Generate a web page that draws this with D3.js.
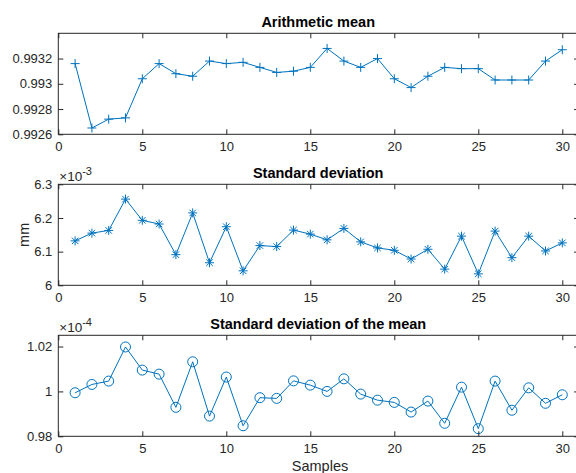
<!DOCTYPE html>
<html>
<head>
<meta charset="utf-8">
<script src="https://cdn.jsdelivr.net/npm/d3@7"></script>
<style>
  body { margin: 0; background: #fff; }
  svg { display: block; font-family: "Liberation Sans", Arial, Helvetica, sans-serif; }
</style>
</head>
<body>
<svg id="chart" width="576" height="473"></svg>
<script>
// Sample index 1..30
const samples = d3.range(1, 31);

// Arithmetic mean of each sample
const meanValues = [0.99316, 0.99265, 0.99272, 0.99273, 0.99304, 0.99316, 0.99308, 0.99306, 0.99318, 0.99316,
                    0.99317, 0.99313, 0.99309, 0.99310, 0.99313, 0.99328, 0.99318, 0.99313, 0.99320, 0.99304,
                    0.99297, 0.99306, 0.99313, 0.99312, 0.99312, 0.99303, 0.99303, 0.99303, 0.99318, 0.99327];

// Standard deviation (mm), in units of 1e-3
const stdValues = [6.132, 6.155, 6.163, 6.256, 6.193, 6.182, 6.091, 6.215, 6.067, 6.174,
                   6.043, 6.118, 6.115, 6.164, 6.152, 6.135, 6.169, 6.129, 6.111, 6.104,
                   6.078, 6.107, 6.048, 6.146, 6.034, 6.161, 6.082, 6.146, 6.102, 6.126];

// Standard deviation of the mean, in units of 1e-4
const semValues = [0.9994, 1.0031, 1.0046, 1.0198, 1.0095, 1.0077, 0.9929, 1.0132, 0.9890, 1.0064,
                   0.9847, 0.9972, 0.9969, 1.0047, 1.0028, 1.0000, 1.0056, 0.9988, 0.9961, 0.9951,
                   0.9908, 0.9957, 0.9858, 1.0019, 0.9834, 1.0046, 0.9916, 1.0016, 0.9947, 0.9985];

const xTicks = [0, 5, 10, 15, 20, 25, 30];
const meanTicks = [0.9926, 0.9928, 0.993, 0.9932];
const meanTickLabels = ["0.9926", "0.9928", "0.993", "0.9932"];
const stdTicks = [6, 6.1, 6.2, 6.3];
const stdTickLabels = ["6", "6.1", "6.2", "6.3"];
const semTicks = [0.98, 1, 1.02];
const semTickLabels = ["0.98", "1", "1.02"];

const ink = "#262626";
const lineColor = "#0072BD";
const tickFont = 13;

const svg = d3.select("#chart");

const panels = [
  { title: "Arithmetic mean", values: meanValues, yDomain: [0.9926, 0.9934], ticks: meanTicks,
    labels: meanTickLabels, top: 33.3, bottom: 134.3, marker: "plus", exponent: null, ylabel: null },
  { title: "Standard deviation", values: stdValues, yDomain: [6.0, 6.3], ticks: stdTicks,
    labels: stdTickLabels, top: 184.3, bottom: 285.3, marker: "star", exponent: "-3", ylabel: "mm" },
  { title: "Standard deviation of the mean", values: semValues, yDomain: [0.98, 1.025], ticks: semTicks,
    labels: semTickLabels, top: 335.3, bottom: 436.3, marker: "circle", exponent: "-4", ylabel: null }
];

const left = 58.3, right = 579.1;
const x = d3.scaleLinear().domain([0, 31]).range([left, right]);
const tickLen = 5;

panels.forEach(p => {
  const y = d3.scaleLinear().domain(p.yDomain).range([p.bottom, p.top]);
  const g = svg.append("g");

  // data line
  const line = d3.line().x((d, i) => x(samples[i])).y(d => y(d));
  g.append("path").datum(p.values)
    .attr("d", line).attr("fill", "none")
    .attr("stroke", lineColor).attr("stroke-width", 1);

  // markers
  const mk = g.append("g").attr("stroke", lineColor).attr("fill", "none").attr("stroke-width", 1);
  p.values.forEach((v, i) => {
    const cx = x(samples[i]), cy = y(v);
    if (p.marker === "plus") {
      const s = 4.5;
      mk.append("path").attr("d", `M${cx - s},${cy}H${cx + s}M${cx},${cy - s}V${cy + s}`);
    } else if (p.marker === "star") {
      const s = 4.5, d = s * 0.72;
      mk.append("path").attr("d",
        `M${cx - s},${cy}H${cx + s}M${cx},${cy - s}V${cy + s}` +
        `M${cx - d},${cy - d}L${cx + d},${cy + d}M${cx - d},${cy + d}L${cx + d},${cy - d}`);
    } else {
      mk.append("circle").attr("cx", cx).attr("cy", cy).attr("r", 5);
    }
  });

  // axes box
  g.append("rect").attr("x", left).attr("y", p.top)
    .attr("width", right - left).attr("height", p.bottom - p.top)
    .attr("fill", "none").attr("stroke", ink).attr("stroke-width", 1);

  // x ticks, bottom and top, pointing inward
  const xAxisB = d3.axisBottom(x).tickValues(xTicks).tickSizeInner(-tickLen).tickSizeOuter(0).tickPadding(7);
  const gxb = g.append("g").attr("transform", `translate(0,${p.bottom})`).call(xAxisB);
  gxb.select(".domain").remove();
  gxb.selectAll("line").attr("stroke", ink);
  gxb.selectAll("text").attr("fill", ink).attr("font-size", tickFont)
    .attr("font-family", "'Liberation Sans', Arial, sans-serif");

  const xAxisT = d3.axisTop(x).tickValues(xTicks).tickSizeInner(-tickLen).tickSizeOuter(0).tickFormat("");
  const gxt = g.append("g").attr("transform", `translate(0,${p.top})`).call(xAxisT);
  gxt.select(".domain").remove();
  gxt.selectAll("line").attr("stroke", ink);

  // y ticks, left and right
  const yAxisL = d3.axisLeft(y).tickValues(p.ticks).tickSizeInner(-tickLen).tickSizeOuter(0).tickPadding(6)
    .tickFormat((d, i) => p.labels[i]);
  const gyl = g.append("g").attr("transform", `translate(${left},0)`).call(yAxisL);
  gyl.select(".domain").remove();
  gyl.selectAll("line").attr("stroke", ink);
  gyl.selectAll("text").attr("fill", ink).attr("font-size", tickFont)
    .attr("font-family", "'Liberation Sans', Arial, sans-serif");

  const yAxisR = d3.axisRight(y).tickValues(p.ticks).tickSizeInner(-tickLen).tickSizeOuter(0).tickFormat("");
  const gyr = g.append("g").attr("transform", `translate(${right},0)`).call(yAxisR);
  gyr.select(".domain").remove();
  gyr.selectAll("line").attr("stroke", ink);

  // title
  g.append("text").attr("x", (left + right) / 2 - 0.5).attr("y", p.top - 6)
    .attr("text-anchor", "middle").attr("font-weight", "bold").attr("font-size", 14.5)
    .attr("fill", "#000").text(p.title);

  // exponent multiplier
  if (p.exponent) {
    const t = g.append("text").attr("x", left + 1).attr("y", p.top - 3)
      .attr("font-size", 13.5).attr("fill", ink);
    t.append("tspan").text("\u00d710");
    t.append("tspan").attr("dy", -6).attr("font-size", 11).text(p.exponent);
  }

  // y label
  if (p.ylabel) {
    g.append("text")
      .attr("transform", `translate(${29},${(p.top + p.bottom) / 2}) rotate(-90)`)
      .attr("text-anchor", "middle").attr("font-size", 14.5).attr("fill", ink).text(p.ylabel);
  }
});

// x label
svg.append("text").attr("x", 320).attr("y", 471).attr("text-anchor", "middle")
  .attr("font-size", 14.5).attr("fill", ink).text("Samples");
</script>
</body>
</html>
